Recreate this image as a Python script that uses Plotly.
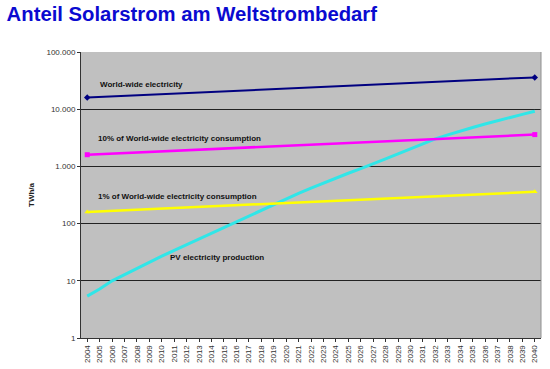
import plotly.graph_objects as go

years = [str(y) for y in range(2004, 2041)]
end_years = ["2004", "2040"]

world = [16000, 36000]
ten_pct = [1600, 3600]
one_pct = [160, 360]
pv = [5.4, 7.2, 10, 12.9, 16.6, 21.4, 26.9, 33.9, 42.7, 53.7, 67.6, 85, 107, 138,
      174, 219, 275, 339, 417, 513, 631, 759, 912, 1096, 1349, 1660, 2042, 2512,
      3020, 3548, 4169, 4786, 5495, 6310, 7244, 8128, 9226]

ytick_vals = [1, 10, 100, 1000, 10000, 100000]
ytick_text = ["1", "10", "100", "1.000", "10.000", "100.000"]

FONT = "Liberation Sans, Arial, sans-serif"

fig = go.Figure()
fig.add_trace(go.Scatter(x=years, y=pv, mode="lines",
                         line=dict(color="#30e6e8", width=3), showlegend=False))
fig.add_trace(go.Scatter(x=end_years, y=world, mode="lines+markers",
                         line=dict(color="#000080", width=2),
                         marker=dict(symbol="diamond", size=5, color="#000080"),
                         showlegend=False))
fig.add_trace(go.Scatter(x=end_years, y=ten_pct, mode="lines+markers",
                         line=dict(color="#ff00ff", width=2.5),
                         marker=dict(symbol="square", size=5, color="#ff00ff"),
                         showlegend=False))
fig.add_trace(go.Scatter(x=end_years, y=one_pct, mode="lines+markers",
                         line=dict(color="#ffff00", width=2.5),
                         marker=dict(symbol="triangle-up", size=5, color="#ffff00"),
                         showlegend=False))

ann = [
    ("World-wide electricity", 0.0380, 0.888),
    ("10% of World-wide electricity consumption", 0.0320, 0.696),
    ("1% of World-wide electricity consumption", 0.0320, 0.4965),
    ("PV electricity production", 0.189, 0.283),
]
for text, ax, ay in ann:
    fig.add_annotation(text="<b>" + text + "</b>", x=ax, y=ay, xref="paper", yref="paper",
                       xanchor="left", yanchor="middle", showarrow=False,
                       font=dict(family=FONT, size=8, color="#111111"))

fig.update_layout(
    width=550, height=369,
    margin=dict(l=81, r=9, t=52, b=31, autoexpand=False),
    paper_bgcolor="white",
    plot_bgcolor="#c0c0c0",
    title=dict(text="<b>Anteil Solarstrom am Weltstrombedarf</b>", x=0.012, xanchor="left",
               xref="container", y=0.963, yanchor="middle",
               font=dict(family=FONT, size=20.3, color="#0a0ad0")),
    xaxis=dict(type="category", categoryorder="array", categoryarray=years,
               tickangle=-90, tickfont=dict(family=FONT, size=8, color="#333"),
               showgrid=False, showline=True, linecolor="#333", linewidth=1,
               ticks="outside", ticklen=3, tickcolor="#333", mirror=False,
               range=[-0.5, 36.5], automargin=False),
    yaxis=dict(type="log", range=[0, 5], tickvals=ytick_vals, ticktext=ytick_text,
               tickfont=dict(family=FONT, size=8, color="#333"),
               showgrid=True, gridcolor="#222", gridwidth=1,
               showline=True, linecolor="#333", linewidth=1,
               ticks="outside", ticklen=3, tickcolor="#333", automargin=False,
               title=dict(text="<b>TWh/a</b>", font=dict(family=FONT, size=8, color="#222"),
                          standoff=10)),
    shapes=[dict(type="line", xref="paper", yref="paper", x0=1, x1=1, y0=0, y1=1,
                 line=dict(color="#909090", width=1))],
)

fig.write_html("out.html", config={"displayModeBar": False},
               post_script="document.body.style.margin='0';document.body.style.overflow='hidden';")
